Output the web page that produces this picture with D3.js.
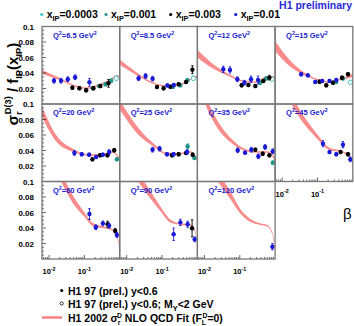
<!DOCTYPE html>
<html>
<head>
<meta charset="utf-8">
<script src="https://cdn.jsdelivr.net/npm/d3@7"></script>
<style>
  body { margin: 0; background: #fff; }
  svg { display: block; font-family: "Liberation Sans", Arial, sans-serif; }
</style>
</head>
<body>
<script>
// Q^2 of each panel, GeV^2
var q2Labels = ["6.5", "8.5", "12", "15", "20", "25", "35", "45", "60", "90", "120"];

// [panel, beta, sigma_r/f, error]
var xip01 = [
  [0,0.0138,0.030,0.003],[0,0.0218,0.030,0.003],[0,0.0339,0.032,0.003],[0,0.0546,0.0345,0.003],[0,0.139,0.028,0.005],
  [1,0.0216,0.0332,0.003],[1,0.0341,0.0361,0.003],[1,0.0538,0.0327,0.003],[1,0.141,0.024,0.002],[1,0.215,0.0245,0.002],
  [2,0.0341,0.0448,0.004],[2,0.0528,0.0439,0.004],[2,0.0851,0.0319,0.003],[2,0.135,0.0275,0.003],[2,0.208,0.0319,0.004],[2,0.329,0.031,0.005],
  [3,0.0345,0.0383,0.002],[3,0.0535,0.037,0.002],[3,0.0862,0.0284,0.002],[3,0.136,0.0297,0.002],[3,0.219,0.0297,0.002],[3,0.340,0.031,0.002],
  [4,0.0521,0.0368,0.003],[4,0.0845,0.0351,0.002],[4,0.136,0.0346,0.002],[4,0.215,0.0316,0.002],[4,0.334,0.0346,0.002],[4,0.503,0.038,0.003],
  [5,0.0538,0.041,0.003],[5,0.0851,0.0423,0.003],[5,0.138,0.0351,0.002],[5,0.2125,0.0351,0.002],[5,0.510,0.038,0.003],
  [6,0.0873,0.0403,0.003],[6,0.141,0.0372,0.002],[6,0.2125,0.041,0.003],[6,0.336,0.0325,0.003],[6,0.520,0.0445,0.003],[6,0.860,0.039,0.003],
  [7,0.143,0.0488,0.004],[7,0.219,0.038,0.002],[7,0.340,0.0351,0.002],[7,0.527,0.0475,0.004],[7,0.849,0.0286,0.003],
  [8,0.139,0.058,0.007],[8,0.211,0.041,0.003],[8,0.334,0.046,0.003],[8,0.503,0.043,0.003],[8,0.833,0.031,0.003],
  [9,0.2125,0.0319,0.008],[9,0.329,0.0473,0.004],[9,0.530,0.0448,0.004],[9,0.838,0.0254,0.003],
  [10,0.838,0.0159,0.004]
];
var xip003 = [
  [0,0.0457,0.021,0.002],[0,0.0723,0.0203,0.002],[0,0.112,0.0177,0.002],[0,0.1805,0.0203,0.002],[0,0.285,0.0232,0.002],[0,0.481,0.0267,0.005],
  [1,0.0718,0.0219,0.002],[1,0.1105,0.0203,0.002],[1,0.171,0.0223,0.002],[1,0.2945,0.0254,0.002],[1,0.478,0.0284,0.002],[1,0.721,0.0443,0.005],
  [2,0.113,0.0241,0.002],[2,0.175,0.0245,0.002],[2,0.276,0.0232,0.002],[2,0.465,0.0297,0.002],[2,0.689,0.034,0.003],
  [3,0.114,0.0288,0.002],[3,0.177,0.0241,0.002],[3,0.274,0.0275,0.002],[3,0.4935,0.034,0.002],[3,0.731,0.0383,0.002],
  [4,0.169,0.0286,0.002],[4,0.279,0.0338,0.002],[4,0.450,0.0338,0.002],[4,0.698,0.0403,0.002],
  [5,0.191,0.0338,0.002],[5,0.2945,0.0351,0.002],[5,0.478,0.0368,0.002],[5,0.735,0.0346,0.002],
  [6,0.276,0.041,0.002],[6,0.447,0.0359,0.002],[6,0.689,0.0338,0.002],
  [7,0.450,0.038,0.002],[7,0.731,0.0351,0.002],
  [8,0.455,0.0448,0.004],[8,0.745,0.0365,0.003],
  [9,0.707,0.0396,0.011]
];
var xip001 = [
  [0,0.1735,0.0203,0.002],[0,0.262,0.0232,0.002],[0,0.395,0.0254,0.002],[0,0.574,0.030,0.002],
  [1,0.204,0.0223,0.002],[1,0.329,0.0241,0.002],[1,0.520,0.0306,0.002],
  [2,0.375,0.0275,0.002],[2,0.555,0.033,0.002],
  [3,0.340,0.0284,0.002],[3,0.527,0.033,0.002],
  [4,0.833,0.0286,0.002],
  [5,0.530,0.0454,0.003],[5,0.822,0.0303,0.002],
  [6,0.860,0.0243,0.002]
];
// open points (M_Y < 2 GeV)
var xip0003 = [
  [0,0.795,0.0332,0.003],[1,0.770,0.0332,0.003],[2,0.822,0.032,0.002],[3,0.849,0.028,0.002]
];

// NLO QCD fit band per panel: [beta, centre, half width]
var fitBands = [
  [[0.0063,0.0415,0.0025],[0.0205,0.032,0.0015],[0.0488,0.024,0.001],[0.117,0.0205,0.001],[0.279,0.025,0.001],[0.537,0.031,0.001],[0.80,0.0355,0.0015],[1.0,0.0345,0.002]],
  [[0.0063,0.054,0.0035],[0.0121,0.045,0.0025],[0.0241,0.036,0.0015],[0.0575,0.0267,0.001],[0.138,0.0232,0.001],[0.329,0.025,0.001],[0.633,0.032,0.001],[1.0,0.035,0.002]],
  [[0.0063,0.065,0.005],[0.017,0.049,0.003],[0.0504,0.037,0.0015],[0.121,0.0297,0.001],[0.289,0.0284,0.001],[0.62,0.035,0.001],[1.0,0.034,0.002]],
  [[0.0063,0.075,0.0065],[0.0161,0.053,0.004],[0.0386,0.040,0.002],[0.092,0.032,0.001],[0.219,0.0284,0.001],[0.527,0.033,0.001],[1.0,0.037,0.002]],
  [[0.0063,0.090,0.007],[0.0165,0.055,0.004],[0.0488,0.040,0.002],[0.1455,0.034,0.001],[0.347,0.035,0.001],[0.60,0.038,0.001],[0.92,0.031,0.0015],[1.0,0.028,0.002]],
  [[0.0063,0.099,0.006],[0.0241,0.062,0.004],[0.0575,0.047,0.002],[0.138,0.036,0.001],[0.329,0.036,0.001],[0.633,0.038,0.001],[1.0,0.028,0.002]],
  [[0.0106,0.105,0.006],[0.0211,0.077,0.005],[0.0504,0.055,0.003],[0.121,0.042,0.0015],[0.289,0.038,0.001],[0.62,0.038,0.001],[0.955,0.029,0.002],[1.0,0.025,0.002]],
  [[0.018,0.106,0.006],[0.0386,0.081,0.005],[0.092,0.0596,0.003],[0.219,0.042,0.0015],[0.527,0.038,0.001],[0.811,0.032,0.0015],[1.0,0.025,0.002]],
  [[0.022,0.106,0.006],[0.0488,0.076,0.005],[0.094,0.059,0.003],[0.18,0.044,0.002],[0.433,0.040,0.001],[0.667,0.037,0.001],[0.92,0.022,0.002],[1.0,0.008,0.002]],
  [[0.021,0.106,0.006],[0.0463,0.083,0.005],[0.089,0.065,0.003],[0.171,0.049,0.002],[0.329,0.045,0.001],[0.633,0.044,0.001],[0.86,0.036,0.0015],[1.0,0.018,0.002]],
  [[0.024,0.106,0.006],[0.0528,0.083,0.005],[0.102,0.062,0.003],[0.195,0.050,0.002],[0.375,0.045,0.001],[0.60,0.043,0.001],[0.82,0.034,0.0015],[1.0,0.014,0.002]]
];

var yTickLabels = ["0.02", "0.04", "0.06", "0.08", "0.1"];
var xTickLabels = [["10", "-2"], ["10", "-1"]];

var W = 354, H = 326;
var gx = 42, gy = 26.5, pw = 77.7, ph = 77.5;
var blue = "#1a1ad6", teal = "#1f9488", cyan = "#44c4c4", band = "#f77f7f", frame = "#777";

var svg = d3.select("body").append("svg").attr("width", W).attr("height", H);

var x = d3.scaleLog().domain([Math.pow(10, -2.2), 1]).range([0, pw]);
var y = d3.scaleLinear().domain([0, 0.1]).range([ph, 0]);

// text with sub/superscripts: parts = [text, baseline offset, size factor, dx]
function rich(sel, parts, fs) {
  var cur = 0;
  parts.forEach(function(p) {
    var t = sel.append("tspan").text(p[0]);
    var off = p[1] || 0;
    if (off - cur !== 0) t.attr("dy", off - cur);
    cur = off;
    t.attr("font-size", fs * (p[2] || 1));
    if (p[3]) t.attr("dx", p[3]);
  });
  return sel;
}

var area = d3.area()
  .x(function(d) { return x(d[0]); })
  .y0(function(d) { return y(d[1] - d[2]); })
  .y1(function(d) { return y(d[1] + d[2]); })
  .curve(d3.curveMonotoneX);

var series = [
  { data: xip0003, color: cyan, open: true },
  { data: xip001, color: teal },
  { data: xip003, color: "#000" },
  { data: xip01, color: blue }
];

q2Labels.forEach(function(q, i) {
  var col = i % 4, row = Math.floor(i / 4);
  var g = svg.append("g").attr("transform", "translate(" + (gx + col * pw) + "," + (gy + row * ph) + ")");

  g.append("clipPath").attr("id", "clip" + i)
    .append("rect").attr("width", pw).attr("height", ph);

  var inner = g.append("g").attr("clip-path", "url(#clip" + i + ")");

  inner.append("path")
    .datum(fitBands[i])
    .attr("d", area)
    .attr("fill", band)
    .attr("opacity", 0.9);

  series.forEach(function(s) {
    var pts = s.data.filter(function(d) { return d[0] === i; });
    var pg = inner.append("g");
    pts.forEach(function(d) {
      var cx = x(d[1]);
      pg.append("line")
        .attr("x1", cx).attr("x2", cx)
        .attr("y1", y(d[2] - d[3])).attr("y2", y(d[2] + d[3]))
        .attr("stroke", s.color).attr("stroke-width", 0.9);
      [d[2] - d[3], d[2] + d[3]].forEach(function(v) {
        pg.append("line")
          .attr("x1", cx - 1.2).attr("x2", cx + 1.2)
          .attr("y1", y(v)).attr("y2", y(v))
          .attr("stroke", s.color).attr("stroke-width", 0.9);
      });
      pg.append("circle")
        .attr("cx", cx).attr("cy", y(d[2]))
        .attr("r", 2.2)
        .attr("fill", s.open ? "#fff" : s.color)
        .attr("stroke", s.color)
        .attr("stroke-width", s.open ? 0.9 : 0);
    });
  });

  // Q2 label
  rich(g.append("text").attr("x", 11).attr("y", 11)
      .attr("fill", "#2020d0").attr("font-weight", "bold"),
    [["Q"], ["2", -3, 0.7], ["=" + q + " GeV", 0], ["2", -3, 0.7]], 7.5);

  // y ticks on the first column
  if (col === 0) {
    d3.range(0.005, 0.1, 0.005).forEach(function(v) {
      var major = Math.abs(v / 0.02 - Math.round(v / 0.02)) < 1e-6;
      g.append("line").attr("x1", 0).attr("x2", major ? 4 : 2)
        .attr("y1", y(v)).attr("y2", y(v))
        .attr("stroke", "#000").attr("stroke-width", 0.6);
    });
  }

  // x ticks on panels with nothing below
  if (i >= 7) {
    [0.001, 0.01, 0.1].forEach(function(dec) {
      d3.range(1, 10).forEach(function(m) {
        var v = dec * m;
        if (v < x.domain()[0] || v > 1) return;
        g.append("line").attr("x1", x(v)).attr("x2", x(v))
          .attr("y1", ph).attr("y2", ph - (m === 1 ? 4 : 2))
          .attr("stroke", "#000").attr("stroke-width", 0.6);
      });
    });
    [0.01, 0.1].forEach(function(v, k) {
      rich(g.append("text").attr("x", x(v)).attr("y", ph + 15)
          .attr("text-anchor", "middle").attr("font-weight", "bold"),
        [[xTickLabels[k][0]], [xTickLabels[k][1], -3.5, 0.72]], 7.5);
    });
  }

  g.append("rect").attr("width", pw).attr("height", ph)
    .attr("fill", "none").attr("stroke", frame).attr("stroke-width", 1.3);
});

// y tick labels
d3.range(3).forEach(function(row) {
  var top = gy + row * ph;
  [0.02, 0.04, 0.06, 0.08, 0.1].forEach(function(v, k) {
    svg.append("text")
      .attr("x", 34).attr("y", top + y(v) + 3)
      .attr("text-anchor", "end").attr("font-weight", "bold")
      .attr("font-size", 8)
      .text(yTickLabels[k]);
  });
});

// y axis title
rich(svg.append("text")
    .attr("transform", "translate(18,84) rotate(-90)")
    .attr("text-anchor", "middle").attr("font-weight", "bold"),
  [["σ"], ["r", 4, 0.62], ["D(3)", -7, 0.62, -3], [" / f", 0], ["IP", 4, 0.62], ["(x", 0], ["IP", 4, 0.62], [")", 0]], 15);

// beta label
svg.append("text").attr("x", 343).attr("y", 219).attr("font-size", 15).text("β");

// header
svg.append("text").attr("x", 352).attr("y", 8.5).attr("text-anchor", "end")
  .attr("font-weight", "bold").attr("font-size", 10.5).attr("fill", "#2a2ad8")
  .text("H1 preliminary");

var legendX = [41.7, 106, 170.7, 235.7];
var xipLabels = ["0.0003", "0.001", "0.003", "0.01"];
var xipColors = ["#3cc8c8", teal, "#000", blue];
xipLabels.forEach(function(lab, k) {
  svg.append("circle").attr("cx", legendX[k]).attr("cy", 14.5).attr("r", 1.6).attr("fill", xipColors[k]);
  rich(svg.append("text").attr("x", legendX[k] + 5).attr("y", 18).attr("font-weight", "bold"),
    [["x"], ["IP", 3, 0.7], ["=" + lab, 0]], 10.5);
});

// bottom legend
svg.append("circle").attr("cx", 61.7).attr("cy", 290.5).attr("r", 1.6).attr("fill", "#000");
svg.append("text").attr("x", 68).attr("y", 294.5).attr("font-weight", "bold").attr("font-size", 10.5)
  .text("H1 97 (prel.) y<0.6");
svg.append("circle").attr("cx", 61.7).attr("cy", 303.5).attr("r", 1.6).attr("fill", "#fff")
  .attr("stroke", "#000").attr("stroke-width", 0.8);
rich(svg.append("text").attr("x", 68).attr("y", 307.5).attr("font-weight", "bold"),
  [["H1 97 (prel.) y<0.6; M"], ["Y", 3, 0.7], ["<2 GeV", 0]], 10.5);
svg.append("line").attr("x1", 42).attr("x2", 62).attr("y1", 317.5).attr("y2", 317.5)
  .attr("stroke", band).attr("stroke-width", 2.5);
rich(svg.append("text").attr("x", 68).attr("y", 321.5).attr("font-weight", "bold"),
  [["H1 2002 σ"], ["r", 3, 0.65], ["D", -4, 0.65, -3.5], [" NLO QCD Fit (F", 0], ["L", 3, 0.65], ["D", -4, 0.65, -3.5], ["=0)", 0]], 10.5);
</script>
</body>
</html>
